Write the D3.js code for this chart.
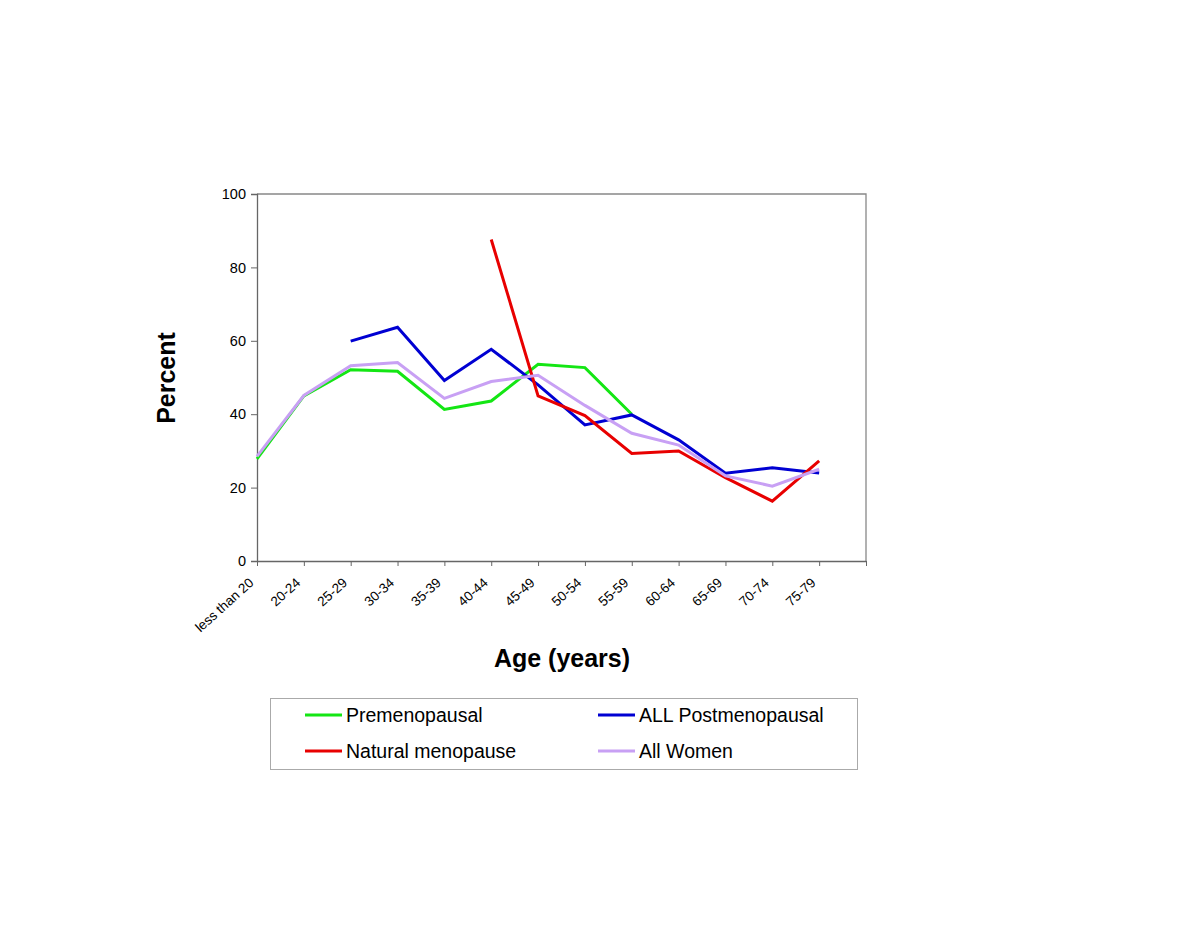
<!DOCTYPE html>
<html>
<head>
<meta charset="utf-8">
<script src="https://cdn.jsdelivr.net/npm/d3@7"></script>
<style>
  body { margin: 0; background: #fff; }
  svg text { font-family: "Liberation Sans", Arial, sans-serif; fill: #000; }
</style>
</head>
<body>
<script>
// age groups (last slot is empty, as in the original axis)
const ageGroups = ["less than 20", "20-24", "25-29", "30-34", "35-39", "40-44", "45-49",
  "50-54", "55-59", "60-64", "65-69", "70-74", "75-79", ""];
const yTicks = [0, 20, 40, 60, 80, 100];

// percent values per age group, null = no data
const premenopausal = [27.8, 45.0, 52.1, 51.7, 41.3, 43.6, 53.6, 52.7, 40.0, null, null, null, null];
const allPostmenopausal = [null, null, 59.9, 63.7, 49.2, 57.7, 48.0, 37.1, 39.8, 33.0, 23.9, 25.4, 24.0];
const naturalMenopause = [null, null, null, null, null, 87.6, 45.0, 39.6, 29.3, 30.0, 22.7, 16.3, 27.3];
const allWomen = [28.5, 45.1, 53.2, 54.1, 44.3, 48.9, 50.6, 42.4, 34.8, 31.6, 23.2, 20.4, 25.0];

const seriesNames = ["Premenopausal", "ALL Postmenopausal", "Natural menopause", "All Women"];
const seriesValues = [premenopausal, allPostmenopausal, naturalMenopause, allWomen];
const seriesColors = ["#14e614", "#0000d2", "#e80000", "#c8a0f4"];

const W = 1200, H = 927;
const plotL = 257, plotR = 866, plotT = 194, plotB = 561;

const svg = d3.select("body").append("svg")
  .attr("width", W)
  .attr("height", H);

let x = d3.scalePoint()
  .domain(ageGroups)
  .range([plotL, plotR]);

let y = d3.scaleLinear()
  .domain([0, 100])
  .range([plotB, plotT]);

// plot frame (top and right)
svg.append("path")
  .attr("d", `M${plotL},${plotT}H${plotR}V${plotB}`)
  .attr("fill", "none")
  .attr("stroke", "#888")
  .attr("stroke-width", 1.3);

// y axis
let yAxis = svg.append("g")
  .attr("transform", "translate(" + plotL + ",0)")
  .call(d3.axisLeft(y).tickValues(yTicks).tickSize(6).tickPadding(5));
yAxis.select(".domain").attr("stroke", "#666").attr("stroke-width", 1.3);
yAxis.selectAll(".tick line").attr("stroke", "#666");
yAxis.selectAll("text").attr("fill", "#000").style("font-size", "14.5px");

// x axis
let xAxis = svg.append("g")
  .attr("transform", "translate(0," + plotB + ")")
  .call(d3.axisBottom(x).tickSize(5).tickSizeOuter(0).tickFormat(d => d));
xAxis.select(".domain").attr("stroke", "#666").attr("stroke-width", 1.3);
xAxis.selectAll(".tick line").attr("stroke", "#666");
xAxis.selectAll("text")
  .attr("fill", "#000")
  .style("font-size", "13.5px")
  .attr("text-anchor", "end")
  .attr("dy", null)
  .attr("y", 0)
  .attr("transform", "translate(-3,23) rotate(-42)");

// axis titles
svg.append("text")
  .attr("transform", "translate(175,378) rotate(-90)")
  .attr("text-anchor", "middle")
  .attr("fill", "#000")
  .style("font-size", "25px")
  .style("font-weight", "bold")
  .text("Percent");

svg.append("text")
  .attr("x", 562)
  .attr("y", 667)
  .attr("text-anchor", "middle")
  .attr("fill", "#000")
  .style("font-size", "25px")
  .style("font-weight", "bold")
  .text("Age (years)");

// lines
let line = d3.line()
  .defined(d => d.v != null)
  .x(d => x(d.cat))
  .y(d => y(d.v));

seriesValues.forEach(function(vals, i) {
  let pts = vals.map((v, j) => ({ cat: ageGroups[j], v: v }));
  svg.append("path")
    .datum(pts)
    .attr("fill", "none")
    .attr("stroke", seriesColors[i])
    .attr("stroke-width", 3)
    .attr("stroke-linejoin", "miter")
    .attr("d", line);
});

// legend
svg.append("rect")
  .attr("x", 270.5)
  .attr("y", 698.5)
  .attr("width", 587)
  .attr("height", 71)
  .attr("fill", "none")
  .attr("stroke", "#aaa")
  .attr("stroke-width", 1);

let legendPos = [[305, 715], [598, 715], [305, 751], [598, 751]];
seriesNames.forEach(function(name, i) {
  let p = legendPos[i];
  svg.append("line")
    .attr("x1", p[0]).attr("x2", p[0] + 37)
    .attr("y1", p[1]).attr("y2", p[1])
    .attr("stroke", seriesColors[i])
    .attr("stroke-width", 3);
  svg.append("text")
    .attr("x", p[0] + 41)
    .attr("y", p[1] + 7)
    .attr("fill", "#000")
    .style("font-size", "19.5px")
    .text(name);
});
</script>
</body>
</html>
